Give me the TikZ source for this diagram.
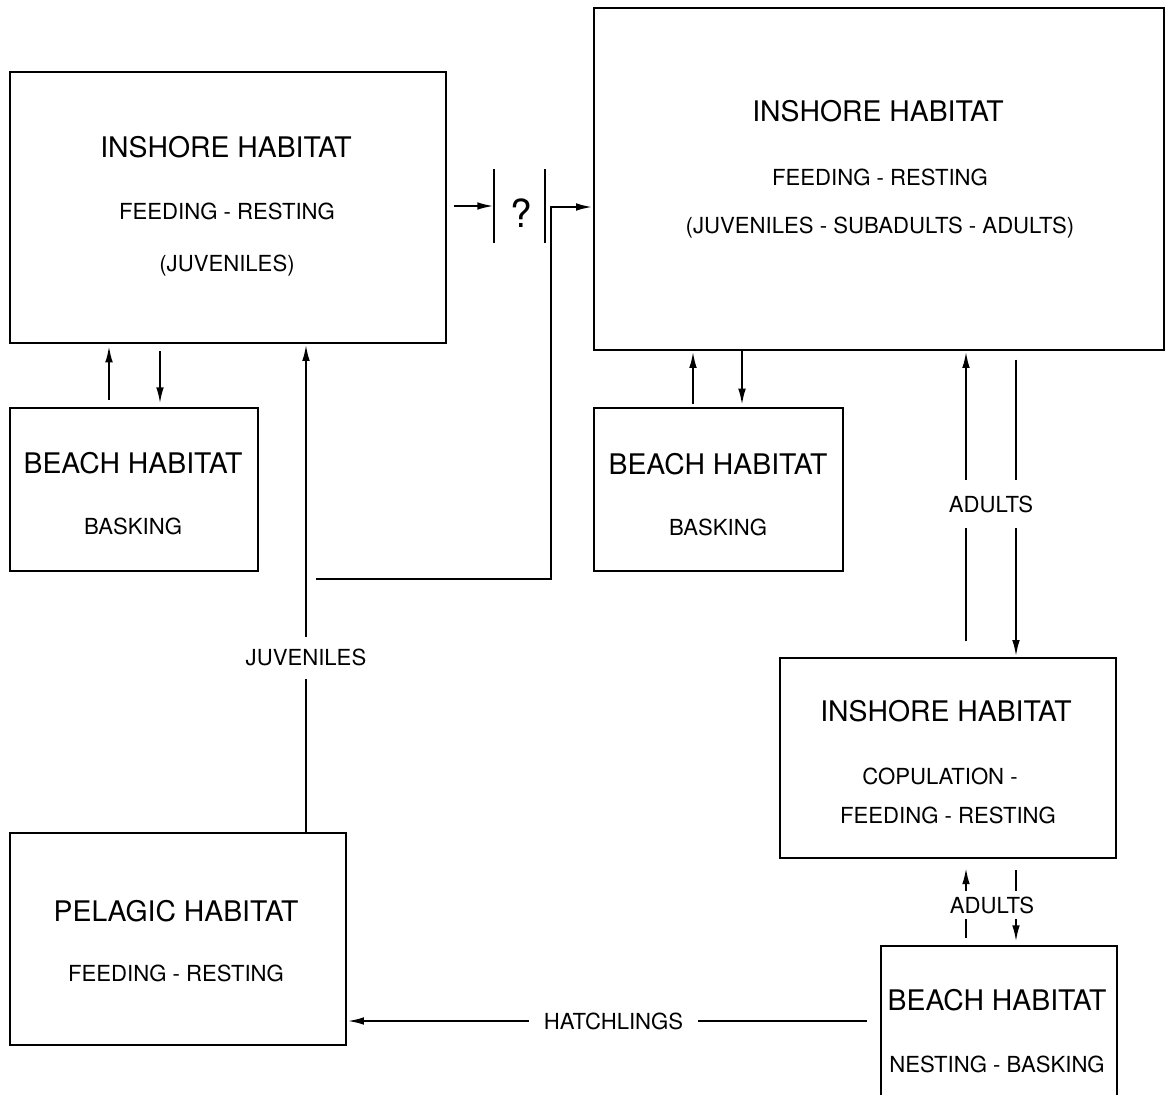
\documentclass[tikz,border=0pt]{standalone}
\usepackage{fontspec}
\setmainfont{TeX Gyre Heros}
\usetikzlibrary{arrows.meta,fit}
\tikzset{
	habbox/.style={draw, line width=1.9pt, inner sep=0pt},
	head/.style={font=\fontsize{20.5}{24}\selectfont, inner sep=0pt, anchor=base},
	sub/.style={font=\fontsize{16}{19}\selectfont, inner sep=0pt, anchor=base},
	flow/.style={line width=1.6pt, -{Latex[length=12pt,width=5.5pt]}},
	bar/.style={line width=1.7pt},
	tag/.style={font=\fontsize{16}{19}\selectfont, fill=white, inner xsep=6pt, inner ysep=6pt},
}

\begin{document}
\begin{tikzpicture}[x=0.0254cm, y=-0.0254cm]
	\useasboundingbox (0,0) rectangle (1165,1094);
	\clip (0,0) rectangle (1165,1094);

	\node[habbox, fit={(10,72) (446,343)}] (inL) {};
	\node[head] (inLa) at (226,157) {INSHORE HABITAT};
	\node[sub] (inLb) at (227,219) {FEEDING - RESTING};
	\node[sub] (inLc) at (227,271) {(JUVENILES)};

	\node[habbox, fit={(594,8) (1164,350)}] (inR) {};
	\node[head] (inRa) at (878,121) {INSHORE HABITAT};
	\node[sub] (inRb) at (880,185) {FEEDING - RESTING};
	\node[sub] (inRc) at (880,233) {(JUVENILES - SUBADULTS - ADULTS)};

	\node[habbox, fit={(10,408) (258,571)}] (lbeach) {};
	\node[head] (lbeacha) at (133,473) {BEACH HABITAT};
	\node[sub] (lbeachb) at (133,534) {BASKING};

	\node[habbox, fit={(594,408) (843,571)}] (mbeach) {};
	\node[head] (mbeacha) at (718,474) {BEACH HABITAT};
	\node[sub] (mbeachb) at (718,535) {BASKING};

	\node[habbox, fit={(780,658) (1116,858)}] (cop) {};
	\node[head] (copa) at (946,721) {INSHORE HABITAT};
	\node[sub] (copb) at (940,784) {COPULATION -};
	\node[sub] (copc) at (948,823) {FEEDING - RESTING};

	\node[habbox, fit={(10,833) (346,1045)}] (pel) {};
	\node[head] (pela) at (176,921) {PELAGIC HABITAT};
	\node[sub] (pelb) at (176,981) {FEEDING - RESTING};

	\node[habbox, fit={(881,946) (1117,1130)}] (nest) {};
	\node[head] (nesta) at (997,1010) {BEACH HABITAT};
	\node[sub] (nestb) at (997,1072) {NESTING - BASKING};

	\draw[flow, shorten <=5pt, shorten >=1pt] (109,0 |- lbeach.north) -- (109,0 |- inL.south);
	\draw[flow, shorten <=5pt, shorten >=2pt] (160,0 |- inL.south) -- (160,0 |- lbeach.north);
	\draw[flow, shorten <=2pt] (693,0 |- mbeach.north) -- (693,0 |- inR.south);
	\draw[flow, shorten >=1pt] (742,0 |- inR.south) -- (742,0 |- mbeach.north);

	\draw[flow] (306,0 |- pel.north) -- (306,0 |- inL.south)
		node[tag, pos=0.357, inner ysep=9pt] (juv) {JUVENILES};

	\coordinate (barL) at (494,206);
	\coordinate (qa) at (316,579);
	\coordinate (qc) at (551,207);
	\draw[flow, shorten <=5pt] (inL.east |- barL) -- (barL);
	\draw[bar] (494,169) -- (494,243);
	\draw[bar] (545,169) -- (545,243);
	\node[font=\fontsize{28}{30}\selectfont, inner sep=0pt] (qm) at (521,213) {?};
	\draw[flow] (qa) -| (qc) -- (inR.west |- qc);

	\draw[flow, shorten <=11pt] (966,0 |- cop.north) -- (966,0 |- inR.south);
	\draw[flow, shorten <=6pt] (1016,0 |- inR.south) -- (1016,0 |- cop.north);
	\node[tag, inner ysep=11pt] (adA) at (991,504) {ADULTS};

	\draw[flow, shorten <=5pt, shorten >=6pt] (966,0 |- nest.north) -- (966,0 |- cop.south);
	\draw[flow, shorten <=8pt, shorten >=2pt] (1016,0 |- cop.south) -- (1016,0 |- nest.north);
	\node[tag, inner ysep=4pt] (adB) at (992,905) {ADULTS};

	\draw[flow, shorten <=9pt] (nest.west |- 0,1021) -- (pel.east |- 0,1021)
		node[tag, pos=0.5, inner xsep=11pt] (hatch) {HATCHLINGS};
\end{tikzpicture}
\end{document}
